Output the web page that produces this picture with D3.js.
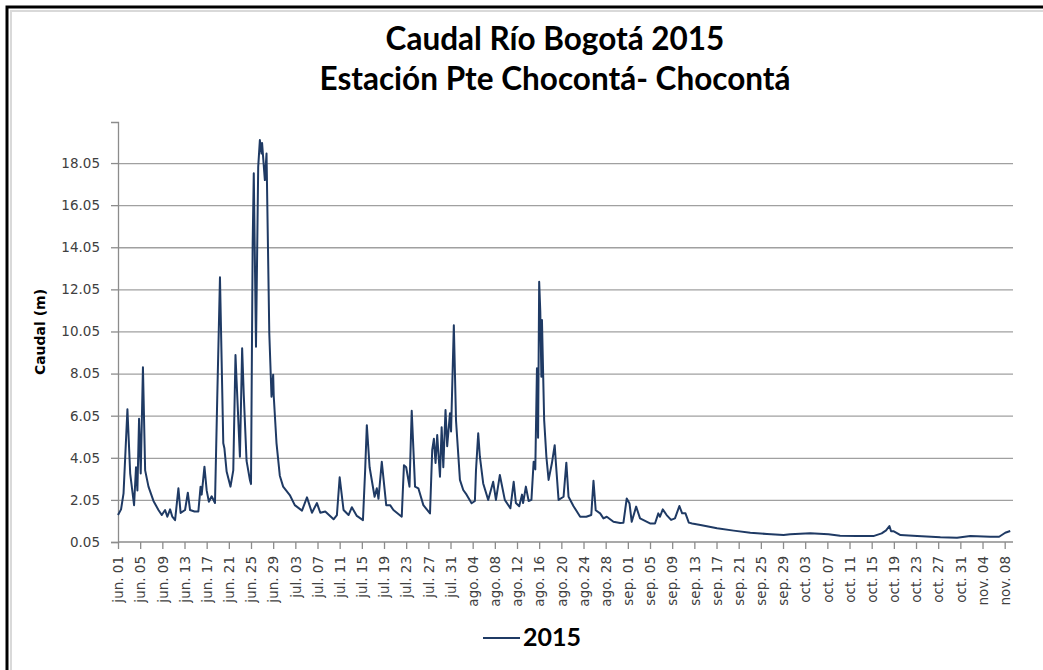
<!DOCTYPE html>
<html>
<head>
<meta charset="utf-8">
<script src="https://cdn.jsdelivr.net/npm/d3@7"></script>
<style>
  body { margin: 0; background: #fff; }
  svg { display: block; }
</style>
</head>
<body>
<svg id="chart" width="1043" height="670"></svg>
<script>
// Caudal Río Bogotá 2015 - Estación Pte Chocontá
// dias = días desde el 1 de junio de 2015 (lecturas varias por día)
const dias = [
  0, 0.55, 1.0, 1.7, 2.2, 2.9, 3.25, 3.5, 3.8, 4.1, 4.5, 4.9, 5.5, 6.4, 7.3, 7.9,
  8.5, 8.9, 9.4, 9.8, 10.3, 10.9, 11.3, 12.1, 12.6, 13.0, 13.8, 14.5, 14.9, 15.1,
  15.6, 16.0, 16.4, 16.9, 17.5, 17.9, 18.4, 19.0, 19.2, 19.6, 20.3, 20.8, 21.2,
  21.4, 22.0, 22.4, 22.7, 23.2, 23.8, 24.0, 24.3, 24.5, 24.9, 25.3, 25.6, 25.9,
  26.0, 26.5, 26.8, 27.3, 27.7, 28.0, 28.1, 28.6, 29.2, 29.8, 31.0, 31.9, 33.2,
  34.1, 35.0, 35.9, 36.5, 37.4, 38.9, 39.5, 40.0, 40.7, 41.6, 42.2, 43.1, 44.2,
  44.6, 44.9, 45.4, 46.3, 46.7, 47.0, 47.6, 48.4, 49.1, 49.7, 51.2, 51.6, 52.0,
  52.6, 53.0, 53.6, 54.2, 55.1, 56.3, 56.7, 57.0, 57.3, 57.6, 58.1, 58.4, 58.7,
  59.1, 59.4, 59.9, 60.1, 60.6, 61.0, 61.7, 62.3, 62.9, 63.8, 64.4, 64.6, 65.0,
  65.3, 65.9, 66.8, 67.7, 68.2, 68.9, 69.8, 70.8, 71.4, 71.8, 72.4, 72.9, 73.1,
  73.6, 74.1, 74.6, 75.0, 75.3, 75.6, 75.8, 76.0, 76.2, 76.4, 76.5, 76.9, 77.3,
  77.7, 78.3, 78.8, 79.0, 79.5, 80.4, 80.9, 81.3, 82.2, 83.4, 84.5, 85.4, 85.8,
  86.2, 87.0, 87.6, 88.2, 89.4, 90.6, 91.2, 91.8, 92.3, 92.7, 93.5, 94.2, 96.0,
  96.9, 97.5, 97.8, 98.3, 99.0, 99.8, 100.5, 101.3, 101.8, 102.4, 103.0, 103.6,
  105.1, 108.1, 111.1, 114.1, 117.1, 120.1, 121.3, 124.9, 128.2, 130.3, 133.3,
  136.3, 137.8, 138.6, 139.2, 139.5, 140.0, 141.2, 144.2, 148.4, 151.4, 153.8,
  157.4, 159.0, 160.1, 161.0
];
const caudal = [
  1.33, 1.6, 2.36, 6.35, 3.3, 1.8, 3.6, 2.5, 5.9, 3.3, 8.35, 3.45, 2.68, 2.0, 1.57, 1.33,
  1.57, 1.25, 1.6, 1.25, 1.09, 2.6, 1.43, 1.57, 2.39, 1.57, 1.5, 1.5, 2.68, 2.3,
  3.63, 2.5, 1.96, 2.22, 1.9, 6.79, 12.62, 4.74, 4.5, 3.4, 2.68, 3.45, 8.93,
  7.7, 4.1, 9.25, 7.0, 3.9, 3.0, 2.8, 14.23, 17.56, 9.32, 17.87, 19.14, 18.5,
  19.0, 17.24, 18.5, 9.97, 6.95, 8.0, 7.0, 4.75, 3.2, 2.68, 2.28, 1.8, 1.54,
  2.17, 1.44, 1.9, 1.44, 1.5, 1.13, 1.33, 3.12, 1.57, 1.33, 1.7, 1.29, 1.09,
  3.47, 5.6, 3.6, 2.2, 2.6, 2.1, 3.86, 1.8, 1.8, 1.57, 1.25, 3.7, 3.6,
  2.68, 6.28, 2.68, 2.6, 1.8, 1.41, 4.42, 4.95, 3.8, 5.13, 3.15, 5.5, 3.6,
  6.32, 4.6, 6.16, 5.3, 10.35, 5.8, 3.0, 2.52, 2.3, 1.89, 2.0, 3.47, 5.21,
  4.1, 2.83, 2.05, 2.91, 2.05, 3.23, 2.05, 1.65, 2.91, 1.9, 1.75, 2.3, 1.9,
  2.68, 2.0, 2.05, 3.86, 3.5, 8.3, 5.0, 12.41, 11.0, 7.9, 10.6, 5.84, 4.1,
  3.0, 3.8, 4.65, 3.86, 2.05, 2.2, 3.82, 2.2, 1.75, 1.25, 1.25, 1.33, 2.96,
  1.56, 1.41, 1.17, 1.25, 1.01, 0.95, 0.96, 2.12, 1.88, 1.01, 1.73, 1.17, 0.93,
  0.93, 1.41, 1.25, 1.6, 1.33, 1.1, 1.17, 1.76, 1.41, 1.41, 0.97, 0.93,
  0.86, 0.7, 0.59, 0.49, 0.43, 0.38, 0.42, 0.46, 0.42, 0.35, 0.33,
  0.33, 0.46, 0.6, 0.81, 0.56, 0.56, 0.38, 0.33, 0.27, 0.25, 0.33,
  0.3, 0.3, 0.49, 0.57
];
const ticksY = [0.05, 2.05, 4.05, 6.05, 8.05, 10.05, 12.05, 14.05, 16.05, 18.05];
const ticksDias = d3.range(0, 161, 4); // jun. 01 ... nov. 08
const mesesCortos = ["ene.", "feb.", "mar.", "abr.", "may.", "jun.", "jul.", "ago.", "sep.", "oct.", "nov.", "dic."];

const inicio = new Date(Date.UTC(2015, 5, 1));
const locale = d3.timeFormatLocale({
  dateTime: "%x, %X", date: "%d/%m/%Y", time: "%H:%M:%S", periods: ["AM", "PM"],
  days: ["domingo", "lunes", "martes", "miércoles", "jueves", "viernes", "sábado"],
  shortDays: ["dom", "lun", "mar", "mié", "jue", "vie", "sáb"],
  months: ["enero", "febrero", "marzo", "abril", "mayo", "junio", "julio", "agosto", "septiembre", "octubre", "noviembre", "diciembre"],
  shortMonths: mesesCortos
});
const fmtFecha = locale.utcFormat("%b %d");

const svg = d3.select("#chart");

// marco
svg.append("rect").attr("x", 11).attr("y", 11).attr("width", 1040).attr("height", 670)
   .attr("fill", "none").attr("stroke", "#d9d9d9").attr("stroke-width", 2);
svg.append("path").attr("d", "M7,670V7H1043").attr("fill", "none")
   .attr("stroke", "#000").attr("stroke-width", 3);

const plot = { left: 118, right: 1013, top: 122, bottom: 542 };

const x = d3.scaleLinear().domain([0, 161.5]).range([plot.left, plot.right]);
const y = d3.scaleLinear().domain([0.05, 20]).range([plot.bottom, plot.top]);

// gridlines
svg.append("g")
   .attr("transform", `translate(${plot.left},0)`)
   .call(d3.axisLeft(y).tickValues(ticksY.slice(1)).tickSize(-(plot.right - plot.left)).tickFormat(""))
   .call(g => g.select(".domain").remove())
   .call(g => g.selectAll("line").attr("stroke", "#a0a0a0").attr("stroke-width", 1.3));

// eje Y
const ejeY = svg.append("g")
   .attr("transform", `translate(${plot.left},0)`)
   .call(d3.axisLeft(y).tickValues(ticksY).tickSize(7).tickPadding(11).tickFormat(d3.format(".2f")));
ejeY.select(".domain").attr("stroke", "#8c8c8c").attr("stroke-width", 1.3);
ejeY.selectAll(".tick line").attr("stroke", "#8c8c8c").attr("stroke-width", 1.3);
ejeY.selectAll("text").attr("font-family", "DejaVu Sans").attr("font-size", 13.5).attr("fill", "#404040");

// eje X
const ejeX = svg.append("g")
   .attr("transform", `translate(0,${plot.bottom})`)
   .call(d3.axisBottom(x).tickValues(ticksDias).tickSize(7)
           .tickFormat(d => fmtFecha(d3.utcDay.offset(inicio, d))));
ejeX.select(".domain").attr("d", `M${plot.left},0H${plot.right}`).attr("stroke", "#8c8c8c").attr("stroke-width", 1.3);
ejeX.selectAll(".tick line").attr("stroke", "#8c8c8c").attr("stroke-width", 1.3);
ejeX.selectAll("text")
   .attr("font-family", "DejaVu Sans").attr("font-size", 13.5).attr("fill", "#404040")
   .attr("transform", "rotate(-90)")
   .attr("text-anchor", "end")
   .attr("x", -14).attr("y", 0).attr("dy", "0.35em");

// serie
const puntos = dias.map((d, i) => [d, caudal[i]]);
svg.append("path")
   .datum(puntos)
   .attr("fill", "none")
   .attr("stroke", "#1f3a64")
   .attr("stroke-width", 2)
   .attr("stroke-linejoin", "round")
   .attr("d", d3.line().x(d => x(d[0])).y(d => y(d[1])));

// títulos
svg.append("text").attr("x", 555).attr("y", 50).attr("text-anchor", "middle")
   .attr("font-family", "Lato").attr("font-weight", 700).attr("font-size", 31.5)
   .text("Caudal Río Bogotá 2015");
svg.append("text").attr("x", 555).attr("y", 90).attr("text-anchor", "middle")
   .attr("font-family", "Lato").attr("font-weight", 700).attr("font-size", 31.5)
   .text("Estación Pte Chocontá- Chocontá");

svg.append("text")
   .attr("transform", "translate(45,332) rotate(-90)")
   .attr("text-anchor", "middle")
   .attr("font-family", "DejaVu Sans").attr("font-weight", 700).attr("font-size", 14)
   .text("Caudal (m)");

// leyenda
svg.append("line").attr("x1", 483).attr("x2", 520).attr("y1", 638).attr("y2", 638)
   .attr("stroke", "#1f3a64").attr("stroke-width", 2);
svg.append("text").attr("x", 523).attr("y", 646)
   .attr("font-family", "Lato").attr("font-weight", 700).attr("font-size", 25)
   .text("2015");
</script>
</body>
</html>
